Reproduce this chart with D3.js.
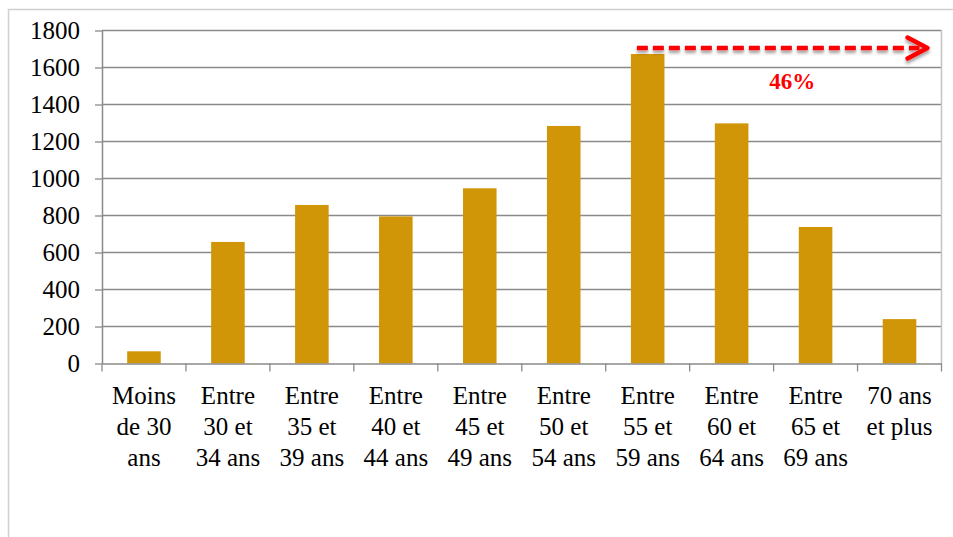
<!DOCTYPE html>
<html>
<head>
<meta charset="utf-8">
<script src="https://cdn.jsdelivr.net/npm/d3@7"></script>
<style>
  html, body { margin: 0; padding: 0; background: #fff; }
  svg { display: block; }
  svg text { font-family: "Liberation Serif", "Times New Roman", serif; }
</style>
</head>
<body>
<div class="container"></div>
<script>
// données
const categories = [
  ["Moins", "de 30", "ans"],
  ["Entre", "30 et", "34 ans"],
  ["Entre", "35 et", "39 ans"],
  ["Entre", "40 et", "44 ans"],
  ["Entre", "45 et", "49 ans"],
  ["Entre", "50 et", "54 ans"],
  ["Entre", "55 et", "59 ans"],
  ["Entre", "60 et", "64 ans"],
  ["Entre", "65 et", "69 ans"],
  ["70 ans", "et plus"]
];
const values = [66, 657, 857, 795, 947, 1284, 1673, 1298, 738, 240];
const yTicks = [0, 200, 400, 600, 800, 1000, 1200, 1400, 1600, 1800];
const annotationLabel = "46%";
const arrowFrom = 6;      // début de la flèche : "Entre 55 et 59 ans"
const arrowLevel = 1705;  // hauteur de la flèche

const WIDTH = 953;
const HEIGHT = 537;
const MARGIN = { top: 30.5, right: 11.5, bottom: 173.5, left: 102 };
const BAR_COLOR = "#d09608";
const GRID_COLOR = "#8a8a8a";
const FONT_SIZE = "25px";

const svg = d3.select(".container")
  .append("svg")
  .attr("width", WIDTH)
  .attr("height", HEIGHT)
  .attr("viewBox", `0 0 ${WIDTH} ${HEIGHT}`);

// ombre de la flèche
svg.append("defs")
  .append("filter")
  .attr("id", "shadow")
  .attr("x", "-10%").attr("y", "-100%")
  .attr("width", "120%").attr("height", "300%")
  .append("feDropShadow")
  .attr("dx", 0)
  .attr("dy", 3)
  .attr("stdDeviation", 1.8)
  .attr("flood-color", "#000")
  .attr("flood-opacity", 0.35);

// fond blanc
svg.append("rect")
  .attr("width", WIDTH)
  .attr("height", HEIGHT)
  .attr("fill", "#fff");

// bordure du graphique
svg.append("rect")
  .attr("x", 8.5)
  .attr("y", 9.5)
  .attr("width", WIDTH + 20)
  .attr("height", HEIGHT + 20)
  .attr("fill", "none")
  .attr("stroke", "#d0d0d0")
  .attr("stroke-width", 1.5);

const keys = categories.map(c => c.join(" "));
const x = d3.scaleBand()
  .domain(keys)
  .range([MARGIN.left, WIDTH - MARGIN.right])
  .paddingInner(0.6)
  .paddingOuter(0.3);

const y = d3.scaleLinear()
  .domain([0, 1800])
  .range([HEIGHT - MARGIN.bottom, MARGIN.top]);

const step = x.step();
const bandLeft = k => x(k) - step * 0.3;

// grille horizontale
svg.append("g")
  .selectAll("line")
  .data(yTicks.filter(d => d > 0))
  .enter()
  .append("line")
  .attr("x1", MARGIN.left)
  .attr("x2", WIDTH - MARGIN.right)
  .attr("y1", d => y(d))
  .attr("y2", d => y(d))
  .attr("stroke", GRID_COLOR)
  .attr("stroke-width", 1.3);

// bord droit de la zone de traçage
svg.append("line")
  .attr("x1", WIDTH - MARGIN.right)
  .attr("x2", WIDTH - MARGIN.right)
  .attr("y1", y(1800))
  .attr("y2", y(0))
  .attr("stroke", "#c4c4c4")
  .attr("stroke-width", 1.5);

// barres
svg.append("g")
  .selectAll("rect")
  .data(values)
  .enter()
  .append("rect")
  .attr("x", (d, i) => x(keys[i]))
  .attr("y", d => y(d))
  .attr("width", x.bandwidth())
  .attr("height", d => y(0) - y(d))
  .attr("fill", BAR_COLOR);

// axe Y
const yAxis = svg.append("g")
  .attr("transform", `translate(${MARGIN.left},0)`)
  .call(d3.axisLeft(y)
    .tickValues(yTicks)
    .tickFormat(d3.format("d"))
    .tickSize(7)
    .tickPadding(15)
    .tickSizeOuter(0));
yAxis.attr("font-family", null).attr("font-size", null);
yAxis.select(".domain").attr("stroke", GRID_COLOR).attr("stroke-width", 1.5);
yAxis.selectAll(".tick line").attr("stroke", GRID_COLOR).attr("stroke-width", 1.3);
yAxis.selectAll(".tick text")
  .attr("font-size", FONT_SIZE)
  .attr("fill", "#000");

// axe X
const xAxis = svg.append("g")
  .attr("transform", `translate(0,${y(0)})`)
  .call(d3.axisBottom(x).tickSize(0).tickSizeOuter(0).tickFormat(""));
xAxis.attr("font-family", null).attr("font-size", null);
xAxis.select(".domain").attr("stroke", GRID_COLOR).attr("stroke-width", 1.5);

// graduations entre les catégories
const boundaries = keys.map(bandLeft).concat([WIDTH - MARGIN.right]);
xAxis.append("g")
  .selectAll("line")
  .data(boundaries)
  .enter()
  .append("line")
  .attr("x1", d => d)
  .attr("x2", d => d)
  .attr("y1", 0)
  .attr("y2", 8)
  .attr("stroke", GRID_COLOR)
  .attr("stroke-width", 1.3);

// étiquettes multi-lignes
xAxis.selectAll(".tick text").remove();
xAxis.selectAll(".tick")
  .append("text")
  .attr("font-size", FONT_SIZE)
  .attr("fill", "#000")
  .attr("text-anchor", "middle")
  .each(function(k) {
    const lines = categories[keys.indexOf(k)];
    d3.select(this).selectAll("tspan")
      .data(lines)
      .enter()
      .append("tspan")
      .attr("x", 0)
      .attr("y", (d, i) => 40 + i * 31)
      .text(d => d);
  });

// flèche annotée
const arrowY = y(arrowLevel);
const arrowX0 = x(keys[arrowFrom]) + 6;
const arrowTip = WIDTH - MARGIN.right - 14;
const arrow = svg.append("g")
  .attr("filter", "url(#shadow)")
  .attr("stroke", "#ff0000")
  .attr("stroke-width", 4.5)
  .attr("fill", "none");
arrow.append("line")
  .attr("x1", arrowX0)
  .attr("x2", arrowTip - 8)
  .attr("y1", arrowY)
  .attr("y2", arrowY)
  .attr("stroke-dasharray", "11,5");
arrow.append("polyline")
  .attr("points", [
    [arrowTip - 20, arrowY - 10.5],
    [arrowTip, arrowY],
    [arrowTip - 20, arrowY + 10.5]
  ].map(p => p.join(",")).join(" "))
  .attr("stroke-linejoin", "round")
  .attr("stroke-linecap", "round");

svg.append("text")
  .attr("x", (arrowX0 + arrowTip) / 2 + 10)
  .attr("y", y(1482))
  .attr("text-anchor", "middle")
  .attr("font-weight", "bold")
  .attr("font-size", "23px")
  .attr("fill", "#ff0000")
  .text(annotationLabel);
</script>
</body>
</html>
